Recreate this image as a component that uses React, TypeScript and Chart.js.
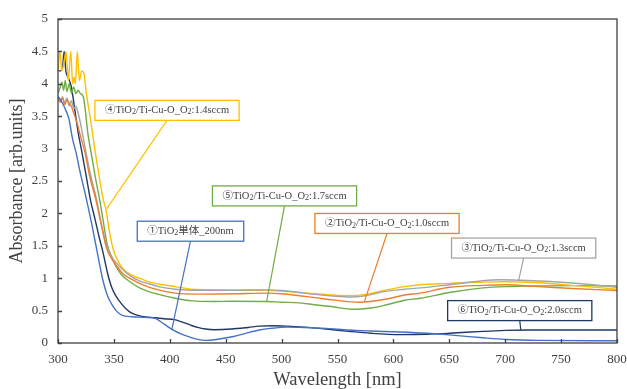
import React, { useEffect, useRef } from "react";
import { Chart, registerables } from "chart.js";

Chart.register(...registerables);

// ---- axis ticks ----
const xTickValues = [300, 350, 400, 450, 500, 550, 600, 650, 700, 750, 800];
const yTickValues = [0, 0.5, 1, 1.5, 2, 2.5, 3, 3.5, 4, 4.5, 5];

// ---- series names / colours ----
const seriesNames = [
  "①TiO2単体_200nm",
  "②TiO2/Ti-Cu-O_O2:1.0sccm",
  "③TiO2/Ti-Cu-O_O2:1.3sccm",
  "④TiO2/Ti-Cu-O_O2:1.4sccm",
  "⑤TiO2/Ti-Cu-O_O2:1.7sccm",
  "⑥TiO2/Ti-Cu-O_O2:2.0sccm",
];
const seriesColors = ["#4472C4", "#ED7D31", "#A5A5A5", "#FFC000", "#70AD47", "#203864"];

// ---- series data (wavelength nm / absorbance) ----
const wl1 = [300,302,304,306,308,310,313,316,320,325,330,336,340,344,348,352,356,360,366,378,387,395,404,410,418,425,432,440,457,470,480,490,505,520,540,560,580,606,630,650,680,700,730,800];
const abs1 = [3.8,3.76,3.7,3.63,3.55,3.44,3.15,2.95,2.62,2.25,1.85,1.32,0.98,0.74,0.6,0.5,0.44,0.415,0.405,0.395,0.38,0.29,0.19,0.14,0.09,0.055,0.04,0.05,0.1,0.16,0.2,0.225,0.245,0.24,0.225,0.2,0.185,0.17,0.15,0.125,0.08,0.055,0.04,0.035];

const wl2 = [300,302,304,306,308,310,312,314,317,320,324,328,334,339,343.5,348,352,358,364,373,380,390,405,427,457,487,500,516,530,546,570,594,610,624,650,680,700,730,760,800];
const abs2 = [3.8,3.72,3.78,3.68,3.75,3.7,3.65,3.55,3.4,3.2,2.95,2.6,2.2,1.8,1.46,1.3,1.2,1.07,1.0,0.92,0.87,0.82,0.77,0.755,0.76,0.77,0.76,0.73,0.7,0.665,0.63,0.68,0.74,0.77,0.86,0.89,0.9,0.87,0.84,0.81];

const wl3 = [300,302,304,306,308,310,312,314,316,318,320,322,325,329,334.6,339,343.5,348,353.5,360,366,373,380,390,405,427,457,487,500,516,530,546,561,575,594,610,624,650,680,695,720,760,800];
const abs3 = [3.78,3.72,3.8,3.7,3.78,3.66,3.74,3.62,3.65,3.55,3.4,3.22,2.95,2.6,2.21,1.82,1.5,1.33,1.21,1.1,1.02,0.96,0.92,0.87,0.83,0.815,0.815,0.82,0.81,0.78,0.75,0.725,0.71,0.73,0.8,0.83,0.85,0.9,0.96,0.975,0.965,0.925,0.86];

const wl4 = [300,301.8,303.3,305,307.2,309.2,311.4,313.1,314.3,315.5,317.3,319.1,321.2,323.3,325,329.5,333,337,340.5,343,346,349.5,355.5,361,367,373,380,390,405,420,440,460,487,500,516,530,546,561,575,594,610,624,650,680,700,730,760,800];
const abs4 = [4.2,4.5,4.2,4.3,4.5,4.05,4.5,4.0,4.1,4.0,4.5,4.05,4.2,4.15,3.9,3.4,2.98,2.55,2.21,2.05,1.72,1.44,1.21,1.1,1.04,1.0,0.95,0.91,0.87,0.83,0.82,0.815,0.815,0.8,0.78,0.76,0.74,0.73,0.75,0.82,0.87,0.9,0.92,0.94,0.945,0.93,0.89,0.83];

const wl5 = [300,302,303.5,305,306.5,308,310,312,314,316,318,320,322.6,327,330,334,337.6,341,344,348,351,357,364,373,380,390,405,420,440,456,487,500,516,530,546,564,580,594,610,624,650,680,700,730,760,800];
const abs5 = [3.85,3.95,4.03,3.9,4.05,3.88,4.0,3.85,3.95,3.85,3.9,3.85,3.8,3.2,2.9,2.5,2.18,1.82,1.52,1.33,1.21,1.05,0.95,0.85,0.8,0.75,0.69,0.65,0.64,0.645,0.64,0.63,0.62,0.59,0.56,0.52,0.54,0.59,0.66,0.69,0.78,0.85,0.87,0.88,0.885,0.88];

const wl6 = [300,302,304,305.5,307,309,312,315,318,321,325,329,333,337,340.5,344,348,352,357,362,366,375,387,395,404,410,418,425,432,440,455,470,480,492,505,520,540,560,580,606,630,650,680,700,720,760,800];
const abs6 = [4.2,4.2,4.25,4.5,4.2,4.1,3.95,3.6,3.25,2.98,2.6,2.21,1.92,1.62,1.38,1.1,0.86,0.72,0.6,0.51,0.46,0.41,0.39,0.375,0.36,0.33,0.28,0.24,0.215,0.205,0.215,0.24,0.26,0.267,0.26,0.245,0.215,0.18,0.15,0.13,0.135,0.15,0.18,0.195,0.2,0.2,0.2];

const seriesWl = [wl1, wl2, wl3, wl4, wl5, wl6];
const seriesAbs = [abs1, abs2, abs3, abs4, abs5, abs6];

// ---- callouts (in data units): point on curve and box centre ----
const calloutPointWl = [401.7, 574, 712, 343.5, 486.6, 714];
const calloutPointAbs = [0.2, 0.635, 0.968, 2.07, 0.64, 0.196];
const calloutBoxWl = [418.5, 594.3, 716.5, 397.5, 502.6, 713];
const calloutBoxAbs = [1.725, 1.845, 1.465, 3.59, 2.27, 0.5];

const FONT_FAMILY = '"Liberation Serif", "Noto Sans CJK JP", serif';
const TEXT_COLOR = "#404040";
const AXIS_COLOR = "#404040";

function splitSub(text: string) {
  const parts: { t: string; sub: boolean }[] = [];
  let buf = "";
  for (let i = 0; i < text.length; i++) {
    const c = text[i];
    if (c === "2" && text[i - 1] === "O") {
      if (buf) parts.push({ t: buf, sub: false });
      buf = "";
      parts.push({ t: "2", sub: true });
    } else buf += c;
  }
  if (buf) parts.push({ t: buf, sub: false });
  return parts;
}

const calloutPlugin = {
  id: "callouts",
  afterDatasetsDraw(chart: any) {
    const ctx = chart.ctx;
    const xs = chart.scales.x;
    const ys = chart.scales.y;
    const size = 10.5;
    const subSize = 8;
    seriesNames.forEach((name, i) => {
      const px = xs.getPixelForValue(calloutPointWl[i]);
      const py = ys.getPixelForValue(calloutPointAbs[i]);
      const cx = xs.getPixelForValue(calloutBoxWl[i]);
      const cy = ys.getPixelForValue(calloutBoxAbs[i]);
      const parts = splitSub(name);
      let total = 0;
      const widths = parts.map((p) => {
        ctx.font = `${p.sub ? subSize : size}px ${FONT_FAMILY}`;
        const w = ctx.measureText(p.t).width;
        total += w;
        return w;
      });
      const w = total + 20;
      const h = 20;
      ctx.save();
      ctx.strokeStyle = seriesColors[i];
      ctx.lineWidth = 1.2;
      ctx.beginPath();
      ctx.moveTo(cx, cy + h / 2);
      ctx.lineTo(px, py);
      ctx.stroke();
      ctx.fillStyle = "#ffffff";
      ctx.fillRect(cx - w / 2, cy - h / 2, w, h);
      ctx.lineWidth = 1.3;
      ctx.strokeRect(cx - w / 2, cy - h / 2, w, h);
      ctx.fillStyle = TEXT_COLOR;
      ctx.textBaseline = "middle";
      ctx.textAlign = "left";
      let x = cx - total / 2;
      parts.forEach((p, k) => {
        ctx.font = `${p.sub ? subSize : size}px ${FONT_FAMILY}`;
        ctx.fillText(p.t, x, cy + (p.sub ? 2 : 0));
        x += widths[k];
      });
      ctx.restore();
    });
  },
  afterDraw(chart: any) {
    const ctx = chart.ctx;
    const a = chart.chartArea;
    const xs = chart.scales.x;
    const ys = chart.scales.y;
    ctx.save();
    ctx.strokeStyle = AXIS_COLOR;
    ctx.lineWidth = 1.3;
    ctx.strokeRect(a.left, a.top, a.right - a.left, a.bottom - a.top);
    ctx.beginPath();
    xTickValues.forEach((v) => {
      const x = Math.round(xs.getPixelForValue(v)) + 0.5;
      ctx.moveTo(x, a.bottom);
      ctx.lineTo(x, a.bottom - 4);
    });
    yTickValues.forEach((v) => {
      const y = Math.round(ys.getPixelForValue(v)) + 0.5;
      ctx.moveTo(a.left, y);
      ctx.lineTo(a.left + 4, y);
    });
    ctx.stroke();
    ctx.restore();
  },
};

export default function App() {
  const canvasRef = useRef<HTMLCanvasElement | null>(null);

  useEffect(() => {
    document.body.style.margin = "0";
    const canvas = canvasRef.current;
    if (!canvas) return;
    const chart = new Chart(canvas, {
      type: "line",
      data: {
        datasets: seriesNames.map((name, i) => ({
          label: name,
          data: seriesWl[i].map((x, k) => ({ x, y: seriesAbs[i][k] })),
          borderColor: seriesColors[i],
          backgroundColor: seriesColors[i],
          borderWidth: 1.4,
          pointRadius: 0,
          fill: false,
          cubicInterpolationMode: "monotone" as const,
        })),
      },
      options: {
        animation: false,
        responsive: false,
        maintainAspectRatio: false,
        layout: { padding: { top: 19, right: 10, left: 0, bottom: 0 } },
        plugins: {
          legend: { display: false },
          tooltip: { enabled: false },
        },
        scales: {
          x: {
            type: "linear",
            min: 300,
            max: 800,
            afterFit: (s: any) => {
              s.height = 46;
              s.paddingLeft = 0;
              s.paddingRight = 0;
            },
            afterBuildTicks: (s: any) => {
              s.ticks = xTickValues.map((v) => ({ value: v }));
            },
            grid: { display: false, drawTicks: false },
            border: { display: false },
            ticks: {
              padding: 9,
              color: TEXT_COLOR,
              font: { family: FONT_FAMILY, size: 13 },
              maxRotation: 0,
              callback: (v: any) => String(v),
            },
            title: {
              display: true,
              text: "Wavelength [nm]",
              color: TEXT_COLOR,
              font: { family: FONT_FAMILY, size: 18.5, lineHeight: 1 },
              padding: { top: 0, bottom: 0 },
            },
          },
          y: {
            type: "linear",
            min: 0,
            max: 5,
            afterFit: (s: any) => {
              s.width = 58;
              s.paddingTop = 0;
              s.paddingBottom = 0;
            },
            afterBuildTicks: (s: any) => {
              s.ticks = yTickValues.map((v) => ({ value: v }));
            },
            grid: { display: false, drawTicks: false },
            border: { display: false },
            ticks: {
              padding: 10,
              color: TEXT_COLOR,
              font: { family: FONT_FAMILY, size: 13 },
              callback: (v: any) => String(v),
            },
            title: {
              display: true,
              text: "Absorbance [arb.units]",
              color: TEXT_COLOR,
              font: { family: FONT_FAMILY, size: 18, lineHeight: 1 },
              padding: { top: 8, bottom: 0 },
            },
          },
        },
      },
      plugins: [calloutPlugin],
    });
    return () => chart.destroy();
  }, []);

  return (
    <div style={{ width: 627, height: 389 }}>
      <canvas ref={canvasRef} width={627} height={389} style={{ display: "block" }} />
    </div>
  );
}
